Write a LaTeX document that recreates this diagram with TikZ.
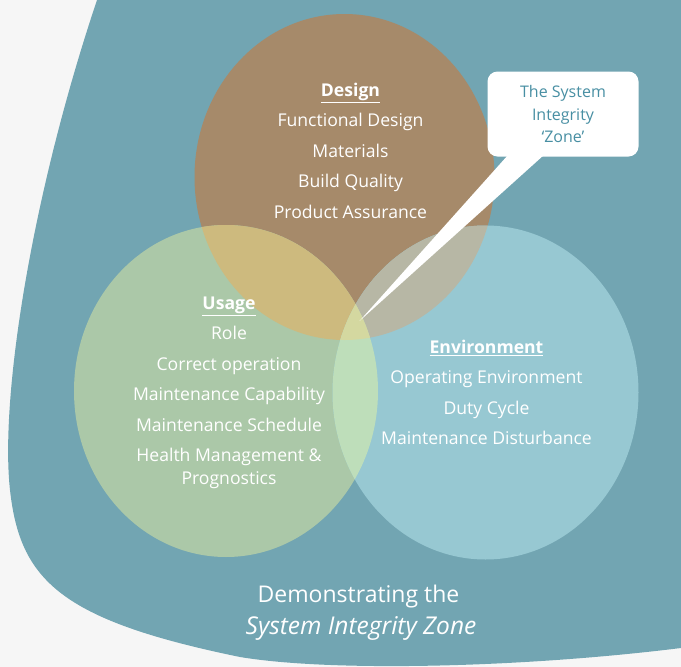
\documentclass[tikz,border=0pt]{standalone}
\usepackage{fontspec}
\setmainfont{Open Sans}
\usepackage{xcolor}
\usepackage{tikz}
\usetikzlibrary{shapes, calc}

\definecolor{paper}{RGB}{246,246,246}
\definecolor{teal}{RGB}{114,165,178}
\definecolor{designc}{RGB}{166,138,106}
\definecolor{usagec}{RGB}{171,200,168}
\definecolor{envc}{RGB}{151,200,210}
\definecolor{duc}{RGB}{205,186,126}
\definecolor{dec}{RGB}{183,183,165}
\definecolor{uec}{RGB}{190,222,186}
\definecolor{duec}{RGB}{212,216,160}
\definecolor{zonetext}{RGB}{72,143,163}

\begin{document}
\begin{tikzpicture}%
	[x=1pt, y=-1pt,
	designr/.style={x radius=150pt, y radius=163pt},
	usager/.style={x radius=152pt, y radius=166pt},
	envr/.style={x radius=153pt, y radius=167pt},
	item/.style={anchor=base, text=white, inner sep=0pt, font=\fontsize{17.6}{21}\selectfont},
	head/.style={item, font=\fontsize{17.6}{21}\selectfont\bfseries},
	title/.style={anchor=base, text=white, inner sep=0pt, font=\fontsize{23}{27}\selectfont},
	callout/.style={fill=white, rounded corners=10pt, text=zonetext, align=center,
		minimum width=151pt, minimum height=85pt, font=\fontsize{16}{22.5}\selectfont}]
%
%% Page and the teal background
%%
\useasboundingbox (0,0) rectangle (681,667);
\fill[paper] (0,0) rectangle (681,667);
\fill[teal] (97,0) .. controls (30,200) and (0,400) .. (10,490)
	.. controls (20,580) and (60,620) .. (240,657)
	.. controls (330,672) and (520,668) .. (681,648) -- (681,0) -- cycle;
%%
%% Centres of the three sets
%%
\coordinate (dc) at (344.5,177);
\coordinate (uc) at (226,391);
\coordinate (ec) at (485.5,392.5);
%%
%% Drawing the sets
%%
\fill[designc] (dc) ellipse [designr];
\fill[usagec] (uc) ellipse [usager];
\fill[envc] (ec) ellipse [envr];
%%
%% Drawing the overlaps
%%
\begin{scope}
	\clip (dc) ellipse [designr];
	\fill[duc] (uc) ellipse [usager];
	\fill[dec] (ec) ellipse [envr];
\end{scope}
\begin{scope}
	\clip (uc) ellipse [usager];
	\fill[uec] (ec) ellipse [envr];
	\clip (dc) ellipse [designr];
	\fill[duec] (ec) ellipse [envr];
\end{scope}
%%
%% The callout
%%
\node[callout] (zone) at (563,114) {The System\\Integrity\\‘Zone’};
\coordinate (tailL) at (512.5,150);
\coordinate (tailR) at (549.5,150);
\coordinate (tip) at (359.5,321);
\fill[white] (tailL) -- (tip) -- (tailR) -- cycle;
%%
%% Design
%%
\node[head] (design) at (350.5,96.5) {\underline{Design}};
\node[item] (functional) at (350.5,126.5) {Functional Design};
\node[item] (materials) at (350.5,157.5) {Materials};
\node[item] (build) at (350.5,187.5) {Build Quality};
\node[item] (assurance) at (350.5,218) {Product Assurance};
%%
%% Usage
%%
\node[head] (usage) at (229,309.5) {\underline{Usage}};
\node[item] (role) at (229,339.5) {Role};
\node[item] (correct) at (229,370.5) {Correct operation};
\node[item] (capability) at (229,400.5) {Maintenance Capability};
\node[item] (schedule) at (229,431.5) {Maintenance Schedule};
\node[item] (health) at (229,461) {Health Management \&};
\node[item] (prognostics) at (229,484.5) {Prognostics};
%%
%% Environment
%%
\node[head] (environment) at (486.5,353.5) {\underline{Environment}};
\node[item] (operating) at (486.5,383.5) {Operating Environment};
\node[item] (duty) at (486.5,414.5) {Duty Cycle};
\node[item] (disturbance) at (486.5,444.5) {Maintenance Disturbance};
%%
%% Caption
%%
\node[title] (demo) at (358.5,602) {Demonstrating the};
\node[title, font=\fontsize{24.5}{28}\selectfont\itshape] (sizone) at (361,634) {System Integrity Zone};
%%
\end{tikzpicture}
\end{document}
